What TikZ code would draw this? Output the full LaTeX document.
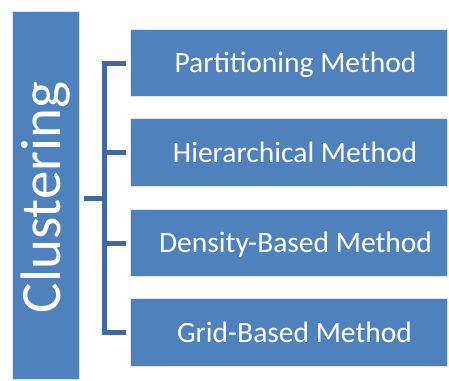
\documentclass[tikz,border=0pt]{standalone}
\usepackage{fontspec}
\setmainfont{Carlito}
\definecolor{boxblue}{HTML}{4F81BD}
\definecolor{linkblue}{HTML}{41699C}
\begin{document}
\begin{tikzpicture}[x=1pt,y=-1pt,
  box/.style={fill=boxblue, draw=white!80!boxblue, line width=0.6pt, minimum width=317pt, minimum height=67.5pt, inner sep=0pt, outer sep=0pt},
  lbl/.style={text=white, font=\fontsize{29.5}{30}\selectfont, anchor=base, inner sep=0pt},
  link/.style={draw=linkblue, line width=5pt, line join=miter, line cap=butt}]
\useasboundingbox (0,0) rectangle (449,380);
\node[box, minimum width=67pt, minimum height=368pt] (cl) at (45.5,195) {};
\node[text=white, font=\fontsize{57}{58}\selectfont, rotate=90, inner sep=0pt] (clt) at (46,197.5) {Clustering};
\node[box] (p) at (289,63) {};
\node[box] (h) at (289,152.5) {};
\node[box] (d) at (289,243) {};
\node[box] (g) at (289,332.5) {};
\node[lbl] (pt) at (295.5,72.5) {Partitioning Method};
\node[lbl] (ht) at (295,162) {Hierarchical Method};
\node[lbl] (dt) at (295.5,252.5) {Density-Based Method};
\node[lbl] (gt) at (294.5,342) {Grid-Based Method};
\coordinate (j) at (104.5,198);
\coordinate (pe) at ([xshift=-4.5pt]p.west);
\coordinate (he) at ([xshift=-4.5pt]h.west);
\coordinate (de) at ([xshift=-4.5pt]d.west);
\coordinate (ge) at ([xshift=-4.5pt]g.west);
\draw[link] (pe) -| (j |- ge) -- (ge);
\draw[link] (j |- he) -- (he);
\draw[link] (j |- de) -- (de);
\draw[link] ([xshift=4.5pt]cl.east |- j) -- ([xshift=2.5pt]j);
\end{tikzpicture}
\end{document}
